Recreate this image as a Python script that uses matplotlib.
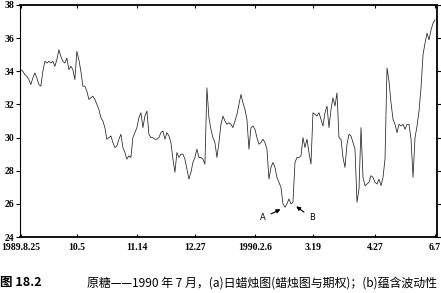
import matplotlib.pyplot as plt

plt.rcParams['font.family'] = ['Noto Sans CJK SC', 'DejaVu Sans']

# daily raw sugar prices (cents/lb), 1989.8.25 - 1990.6.7
prices = [
    34.1, 34.0, 33.8, 33.7, 33.5, 33.2, 33.6, 33.9, 33.6, 33.2, 33.1, 34.0,
    34.6, 34.5, 34.6, 34.5, 34.6, 34.3, 34.7, 35.3, 34.9, 34.6, 34.5, 34.8,
    34.1, 34.3, 34.1, 33.5, 35.2, 34.7, 34.0, 33.1, 33.1, 32.8, 32.3, 32.4,
    32.5, 32.3, 32.0, 31.7, 31.2, 31.0, 30.6, 29.9,
    30.0, 30.1, 29.7, 29.4, 29.5, 29.9, 30.2, 29.4, 29.1, 28.7, 28.9, 28.8,
    30.0, 30.3, 30.6, 31.2, 31.5, 30.6, 31.3, 31.6, 30.2, 30.0, 30.0, 29.9,
    29.9, 30.0, 30.3, 30.4, 29.9, 30.3, 30.1, 29.7, 28.7, 27.9, 29.1, 28.8,
    29.0, 29.0, 28.7, 28.1,
    27.5, 27.9, 28.5, 28.8, 29.3, 28.8, 28.8, 28.7, 28.4, 33.0, 31.2, 30.5,
    30.0, 29.7, 28.8, 29.7, 30.8, 31.3, 31.0, 30.8, 30.9, 30.8, 30.6, 31.0,
    31.4, 32.0, 32.6, 32.1, 31.7, 31.1, 29.3, 30.6, 30.7, 30.5, 30.0, 29.6,
    29.7, 29.9, 29.7, 29.3, 27.5,
    28.2, 28.5, 28.2, 27.6, 27.3, 27.0, 26.0, 25.8, 26.0, 26.3, 26.0, 26.1,
    28.5, 28.8, 28.8, 28.9, 30.0, 29.4, 29.9, 29.1, 28.4, 31.5, 31.4, 31.3,
    31.5, 31.1, 30.7, 31.5, 31.9, 30.6, 31.7, 32.4, 31.9, 32.7, 30.0, 29.9,
    28.8, 28.2, 29.6,
    30.2, 30.1, 29.7, 29.3, 26.1, 26.9, 30.6, 27.6, 27.1, 27.2, 27.3, 27.7,
    27.6, 27.3, 27.2, 27.5, 27.1, 27.6, 28.7, 34.2, 33.4, 32.1, 31.1, 30.8,
    30.3, 30.8, 30.7, 30.8, 30.5, 30.8, 30.8, 29.9, 27.6, 30.0, 30.7, 31.6,
    33.0, 35.0, 35.7, 36.3, 35.9, 36.5, 36.9, 37.1,
]
days = list(range(len(prices)))

tick_days = [0, 28, 58, 87, 117, 146, 177, 207]
tick_labels = ['1989.8.25', '10.5', '11.14', '12.27', '1990.2.6', '3.19', '4.27', '6.7']
y_ticks = [24, 26, 28, 30, 32, 34, 36, 38]

fig = plt.figure(figsize=(4.41, 2.93), dpi=100)
ax = fig.add_axes([0.045, 0.191, 0.946, 0.792])

ax.plot(days, prices, color='#222222', linewidth=0.55)

ax.set_xlim(-0.5, 208)
ax.set_ylim(24, 38)
ax.set_xticks(tick_days)
ax.set_xticklabels(tick_labels)
ax.set_yticks(y_ticks)

for lab in ax.get_xticklabels() + ax.get_yticklabels():
    lab.set_family('Liberation Serif')
    lab.set_fontweight('bold')
    lab.set_fontsize(7)

ax.tick_params(axis='y', which='both', left=True, right=True, length=3, width=0.8, pad=1)
ax.tick_params(axis='x', which='both', bottom=True, top=True, direction='in', length=2, width=0.8, pad=4)
ax.tick_params(axis='y', right=True, labelright=False)

ax.spines['left'].set_linewidth(0.8)
for side in ['top', 'bottom', 'right']:
    ax.spines[side].set_linewidth(1.3)

arrow = dict(arrowstyle='-|>', color='black', lw=0.8, mutation_scale=6)
ax.annotate('A', xy=(131, 25.75), xytext=(121, 25.15), fontsize=6,
            family='DejaVu Sans', ha='center', va='center', arrowprops=arrow)
ax.annotate('B', xy=(136.5, 25.95), xytext=(145.5, 25.15), fontsize=6,
            family='DejaVu Sans', ha='center', va='center', arrowprops=arrow)

fig.text(0.0, 0.035, '图 18.2', fontsize=9, fontweight='bold', ha='left', va='center')
fig.text(87 / 441, 0.035,
         '原糖——1990 年 7 月，(a)日蜡烛图(蜡烛图与期权)；(b)蕴含波动性',
         fontsize=8.6, ha='left', va='center')

fig.savefig('out.png', dpi=100)
